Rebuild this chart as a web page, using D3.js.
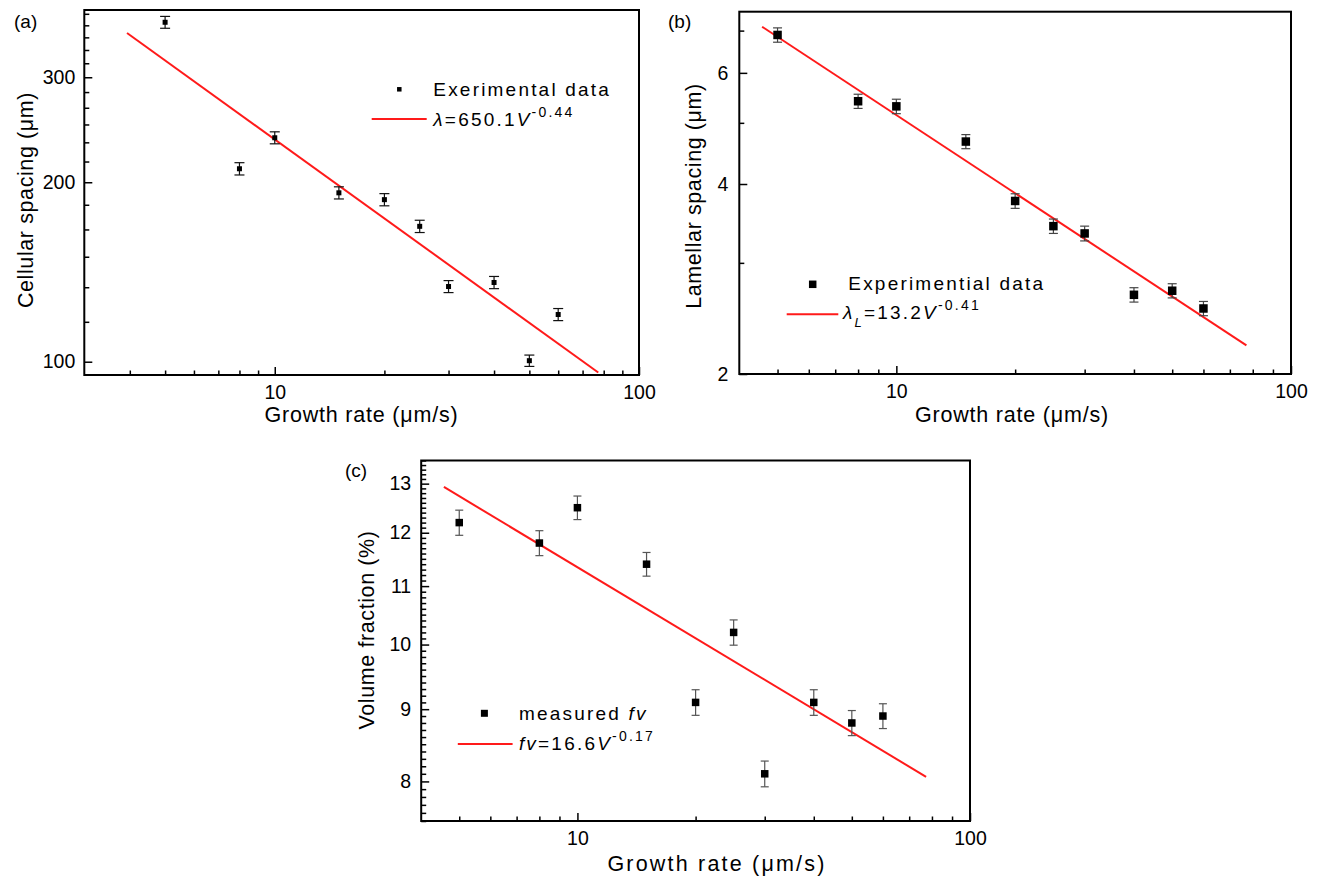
<!DOCTYPE html>
<html><head><meta charset="utf-8">
<script src="https://cdn.jsdelivr.net/npm/d3@7"></script>
<style>
body{margin:0;background:#fff}
text{font-family:"Liberation Sans",Arial,sans-serif;fill:#000}
</style>
</head><body><script>
// ---------- data ----------
const growthRates = [5, 8, 10, 15, 20, 25, 30, 40, 50, 60];
const cellSpacing = [371, 210.7, 237.5, 192, 187, 168.7, 133.7, 135.8, 100.4, 120];
const cellErr     = [8.5, 5, 5.5, 4.5, 4.4, 4, 3.1, 3.2, 2.2, 2.8];
const lamSpacing  = [6.89, 5.41, 5.31, 4.67, 3.76, 3.43, 3.34, 2.67, 2.71, 2.54];
const lamErr      = [0.18, 0.14, 0.14, 0.12, 0.1, 0.09, 0.09, 0.07, 0.07, 0.066];
const volFraction = [12.2, 11.8, 12.5, 11.4, 9.1, 10.2, 8.1, 9.1, 8.8, 8.9];
const volErr      = [0.25, 0.24, 0.24, 0.22, 0.19, 0.21, 0.17, 0.19, 0.18, 0.18];
const fitCellX = [3.93, 77.3], fitCellY = [356, 95.9];
const fitLamX  = [4.57, 77.1], fitLamY  = [7.1, 2.22];
const fitVolX  = [4.57, 77.3], fitVolY  = [12.93, 8.06];
const xMajorTicks = [10, 100];
const xMinorTicksA = [4,5,6,7,8,9,20,30,40,50,60,70,80,90];
const xMinorTicksBC = [5,6,7,8,9,20,30,40,50,60,70,80,90];
const yMajorTicksA = [100, 200, 300];
const yMajorTicksB = [2, 4, 6];
const yMinorTicksB = [3, 5, 7];
const yMajorTicksC = [8, 9, 10, 11, 12, 13];

const yMinorTicksA = d3.range(0, 24).map(i => 100 + i * 100 / 6)
  .filter(v => v <= 389 && Math.abs(v / 100 - Math.round(v / 100)) > 1e-6);
const yMinorTicksC = d3.range(75, 136).map(i => i / 10)
  .filter(v => Math.abs(v - Math.round(v)) > 1e-6);

const W = 1322, H = 876;
const svg = d3.select('body').append('svg').attr('width', W).attr('height', H);
svg.append('rect').attr('width', W).attr('height', H).attr('fill', '#fff');
const FONT = '"Liberation Sans",Arial,sans-serif';

function rich(g, x, y, parts, size, ls) {
  const t = g.append('text').attr('x', x).attr('y', y)
    .attr('font-size', size).attr('letter-spacing', ls || 0);
  parts.forEach(p => {
    const s = t.append('tspan').text(p.t);
    if (p.i) s.attr('font-style', 'italic');
    if (p.fs) s.attr('font-size', p.fs);
    if (p.dy) s.attr('dy', p.dy);
  });
  return t;
}

function panel(p) {
  const g = svg.append('g');
  const x = d3.scaleLog().domain(p.xDom).range([p.fx0, p.fx1]);
  const y = d3.scaleLog().domain(p.yDom).range([p.fy1, p.fy0]);

  const styleAxis = a => {
    a.select('.domain').remove();
    a.selectAll('.tick line').attr('stroke', '#000').attr('stroke-width', 1.5);
    a.selectAll('text').attr('font-size', 19.5).attr('font-family', FONT).attr('fill', '#000');
  };
  // x axis
  g.append('g').attr('transform', `translate(0,${p.fy1})`)
    .call(d3.axisBottom(x).tickValues(p.xMinor).tickSizeInner(-4.5).tickSizeOuter(0).tickFormat(''))
    .call(styleAxis);
  g.append('g').attr('transform', `translate(0,${p.fy1})`)
    .call(d3.axisBottom(x).tickValues(xMajorTicks).tickSizeInner(-8).tickSizeOuter(0).tickPadding(10).tickFormat(d3.format('d')))
    .call(styleAxis);
  // y axis
  g.append('g').attr('transform', `translate(${p.fx0},0)`)
    .call(d3.axisLeft(y).tickValues(p.yMinor).tickSizeInner(-5).tickSizeOuter(0).tickFormat(''))
    .call(styleAxis);
  g.append('g').attr('transform', `translate(${p.fx0},0)`)
    .call(d3.axisLeft(y).tickValues(p.yMajor).tickSizeInner(-8).tickSizeOuter(0).tickPadding(p.yPad).tickFormat(d3.format('d')))
    .call(styleAxis);

  // frame
  g.append('rect').attr('x', p.fx0).attr('y', p.fy0)
    .attr('width', p.fx1 - p.fx0).attr('height', p.fy1 - p.fy0)
    .attr('fill', 'none').attr('stroke', '#000').attr('stroke-width', 2);

  // fit line
  const line = d3.line().x(d => x(d[0])).y(d => y(d[1]));
  g.append('path').datum(p.fitX.map((v, i) => [v, p.fitY[i]]))
    .attr('d', line).attr('fill', 'none').attr('stroke', '#ff1a1a').attr('stroke-width', 2);

  // error bars + markers
  const pts = growthRates.map((v, i) => ({x: v, y: p.vals[i], e: p.errs[i]}));
  const eb = g.append('g').attr('stroke', p.ebColor).attr('stroke-width', 1.2);
  pts.forEach(d => {
    const cx = x(d.x), y0 = y(d.y - d.e), y1 = y(d.y + d.e), c = p.cap / 2;
    eb.append('line').attr('x1', cx).attr('x2', cx).attr('y1', y0).attr('y2', y1);
    eb.append('line').attr('x1', cx - c).attr('x2', cx + c).attr('y1', y0).attr('y2', y0);
    eb.append('line').attr('x1', cx - c).attr('x2', cx + c).attr('y1', y1).attr('y2', y1);
  });
  g.append('g').selectAll('rect').data(pts).join('rect')
    .attr('x', d => x(d.x) - p.ms / 2).attr('y', d => y(d.y) - p.ms / 2)
    .attr('width', p.ms).attr('height', p.ms).attr('fill', '#000');

  // legend
  const L = p.legend;
  g.append('rect').attr('x', L.mx - L.ms / 2).attr('y', L.my - L.ms / 2)
    .attr('width', L.ms).attr('height', L.ms).attr('fill', '#000');
  rich(g, L.tx, L.ty, L.t1, 19, 2.2);
  g.append('line').attr('x1', L.lx0).attr('x2', L.lx1).attr('y1', L.ly).attr('y2', L.ly)
    .attr('stroke', '#ff1a1a').attr('stroke-width', 2);
  rich(g, L.tx2, L.ty2, L.t2, 19, 2.2);

  // titles
  g.append('text').attr('x', p.xtX).attr('y', p.xtY).attr('text-anchor', 'middle')
    .attr('font-size', 21.5).attr('letter-spacing', p.xtLS).text('Growth rate (\u03bcm/s)');
  g.append('text').attr('transform', `translate(${p.ytX},${p.ytY}) rotate(-90)`)
    .attr('text-anchor', 'middle').attr('font-size', 21.5).attr('letter-spacing', 0.6).text(p.yTitle);
  g.append('text').attr('x', p.lbX).attr('y', p.lbY).attr('font-size', 19).text(p.label);
}

panel({
  fx0: 84.3, fx1: 639, fy0: 10, fy1: 375, xDom: [3, 100], yDom: [95, 389],
  xMinor: xMinorTicksA, yMajor: yMajorTicksA, yMinor: yMinorTicksA, yPad: 9,
  vals: cellSpacing, errs: cellErr, fitX: fitCellX, fitY: fitCellY,
  ms: 5, cap: 10, ebColor: '#111',
  legend: {mx: 399.3, my: 89.3, ms: 4.5, tx: 433.3, ty: 95.7,
    t1: [{t: 'Exerimental data'}],
    lx0: 371.7, lx1: 426.7, ly: 119, tx2: 433.3, ty2: 126,
    t2: [{t: '\u03bb', i: 1}, {t: '=650.1'}, {t: 'V', i: 1}, {t: '-0.44', fs: 14, dy: -9}]},
  xtX: 361.5, xtY: 421.7, xtLS: 0.8, ytX: 32.5, ytY: 200, yTitle: 'Cellular spacing (\u03bcm)',
  lbX: 14, lbY: 27.7, label: '(a)'
});

panel({
  fx0: 739.3, fx1: 1291, fy0: 11.7, fy1: 374, xDom: [4, 100], yDom: [2, 7.5],
  xMinor: xMinorTicksBC, yMajor: yMajorTicksB, yMinor: yMinorTicksB, yPad: 11,
  vals: lamSpacing, errs: lamErr, fitX: fitLamX, fitY: fitLamY,
  ms: 8.5, cap: 9, ebColor: '#444',
  legend: {mx: 812.7, my: 284.3, ms: 7.5, tx: 848.3, ty: 290,
    t1: [{t: 'Experimential data'}],
    lx0: 786.7, lx1: 838.3, ly: 314.3, tx2: 843, ty2: 319.3,
    t2: [{t: '\u03bb', i: 1}, {t: 'L', i: 1, fs: 13, dy: 8}, {t: '=13.2', dy: -8}, {t: 'V', i: 1}, {t: '-0.41', fs: 14, dy: -9}]},
  xtX: 1012, xtY: 421.7, xtLS: 0.8, ytX: 701, ytY: 196, yTitle: 'Lamellar spacing (\u03bcm)',
  lbX: 668, lbY: 27.7, label: '(b)'
});

panel({
  fx0: 421.2, fx1: 970, fy0: 460.5, fy1: 821, xDom: [4, 100], yDom: [7.5, 13.5],
  xMinor: xMinorTicksBC, yMajor: yMajorTicksC, yMinor: yMinorTicksC, yPad: 10,
  vals: volFraction, errs: volErr, fitX: fitVolX, fitY: fitVolY,
  ms: 7.5, cap: 8, ebColor: '#555',
  legend: {mx: 484.4, my: 713.3, ms: 7, tx: 518.9, ty: 720,
    t1: [{t: 'measured '}, {t: 'fv', i: 1}],
    lx0: 457.8, lx1: 512.6, ly: 744, tx2: 518.9, ty2: 750,
    t2: [{t: 'fv', i: 1}, {t: '=16.6'}, {t: 'V', i: 1}, {t: '-0.17', fs: 14, dy: -9}]},
  xtX: 717, xtY: 871, xtLS: 2.2, ytX: 374, ytY: 630, yTitle: 'Volume fraction (%)',
  lbX: 345, lbY: 477, label: '(c)'
});
</script></body></html>
